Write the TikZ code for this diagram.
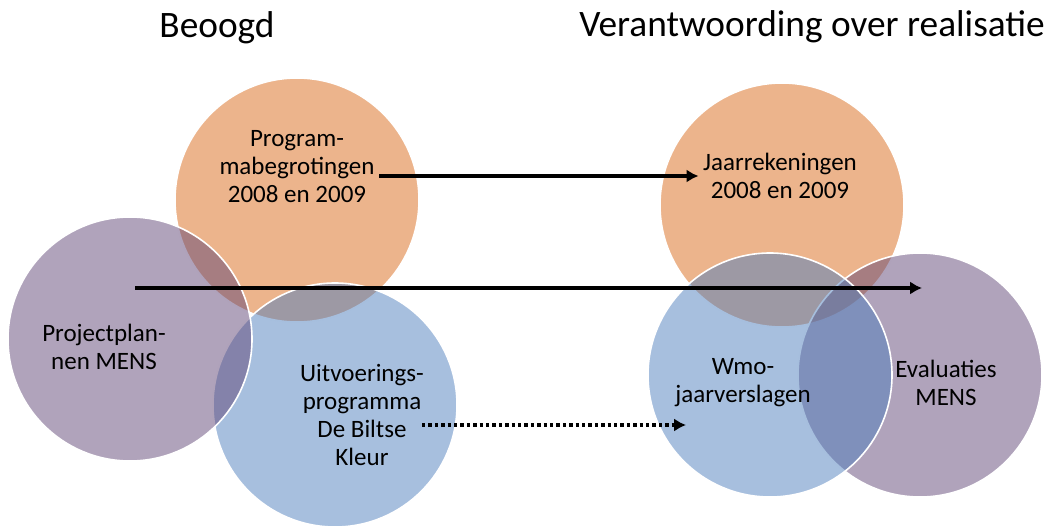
\documentclass[tikz,border=0pt]{standalone}
\usepackage{fontspec}
\setmainfont{Carlito}
\usetikzlibrary{calc, arrows.meta}
\definecolor{oranje}{RGB}{217,105,25}
\definecolor{paars}{RGB}{97,71,119}
\definecolor{blauw}{RGB}{79,127,189}
\tikzset{>={Latex[length=9pt,width=10pt]}}
\tikzset{
  bol/.style={circle, minimum size=183pt, inner sep=0pt, draw=white, line width=1.2pt, fill opacity=0.5},
  tekst/.style={align=center, font=\fontsize{18.75pt}{21pt}\selectfont},
  kop/.style={anchor=base, font=\fontsize{28pt}{32pt}\selectfont},
  pijl/.style={line width=3pt, ->},
}

\begin{document}
\begin{tikzpicture}[x=0.75pt, y=-0.75pt]
\useasboundingbox (0,0) rectangle (1055,528);
% koppen
\node[kop] (beoogd) at (217,38) {Beoogd};
\node[kop] (verantw) at (812,37) {Verantwoording over realisatie};
% links
\node[bol, fill=oranje] (begr) at (297,200) {};
\node[bol, fill=blauw] (uitv) at (335,405) {};
\node[bol, fill=paars] (proj) at (130,339) {};
% rechts
\node[bol, fill=oranje] (jaar) at (782,205) {};
\node[bol, fill=paars] (eval) at (920,375) {};
\node[bol, fill=blauw] (wmo) at (770,375) {};
% teksten
\node[tekst] (tbegr) at (297,167) {Program-\\mabegrotingen\\2008 en 2009};
\node[tekst] (tjaar) at (780,176) {Jaarrekeningen\\2008 en 2009};
\node[tekst] (tproj) at (104,347) {Projectplan-\\nen MENS};
\node[tekst] (tuitv) at (362,415) {Uitvoerings-\\programma\\De Biltse\\Kleur};
\node[tekst] (twmo) at (743,383) {Wmo-\\jaarverslagen};
\node[tekst] (teval) at (946,383) {Evaluaties\\MENS};
% pijlen
\coordinate (m1) at (135,288);
\coordinate (m2) at (922,288);
\coordinate (d1) at (422,425);
\coordinate (d2) at (686,425);
\draw[pijl] (tbegr.east |- tjaar.west) -- (tjaar.west);
\draw[pijl] (m1) -- (m2);
\draw[pijl, dash pattern=on 2.6pt off 2.2pt] (d1) -- (d2);
\end{tikzpicture}
\end{document}
